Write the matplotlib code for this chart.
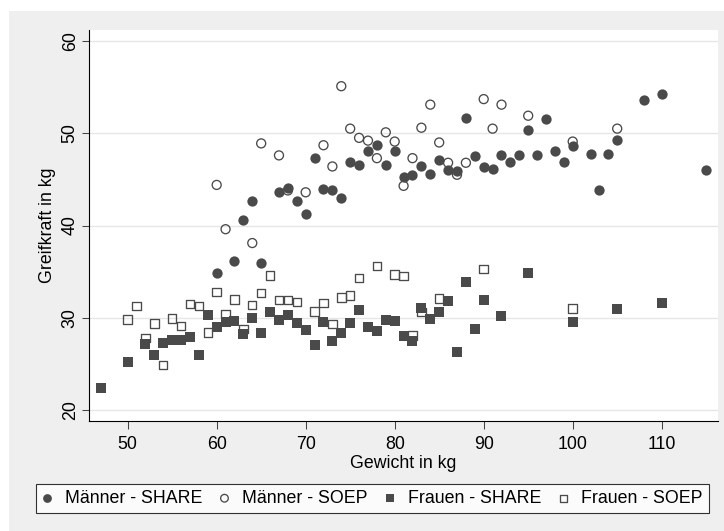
import matplotlib
matplotlib.use('Agg')
import matplotlib.pyplot as plt
from matplotlib.patches import Rectangle

plt.rcParams['font.family'] = ['Liberation Sans', 'DejaVu Sans']

# Männer - SHARE (filled circles)
m_share_x = [60, 62, 63, 64, 65, 67, 68, 69, 70, 71, 72, 73, 74, 75, 76, 77, 78, 79, 80, 81,
             82, 83, 84, 85, 86, 87, 88, 89, 90, 91, 92, 93, 94, 95, 96, 97, 98, 99, 100,
             102, 103, 104, 105, 108, 110, 115]
m_share_y = [34.9, 36.1, 40.6, 42.7, 35.9, 43.6, 44.1, 42.7, 41.3, 47.3, 44.0, 43.8, 43.0, 46.9,
             46.6, 48.1, 48.7, 46.6, 48.1, 45.3, 45.5, 46.4, 45.6, 47.1, 46.0, 45.9, 51.6, 47.5,
             46.3, 46.1, 47.6, 46.9, 47.6, 50.3, 47.6, 51.5, 48.1, 46.9, 48.6, 47.8, 43.8, 47.7,
             49.3, 53.6, 54.2, 46.0]

# Männer - SOEP (hollow circles)
m_soep_x = [60, 61, 64, 65, 67, 68, 70, 72, 73, 74, 75, 76, 77, 78, 79, 80, 81, 82, 83, 84,
            85, 86, 87, 88, 90, 91, 92, 95, 100, 105]
m_soep_y = [44.4, 39.6, 38.1, 48.9, 47.6, 43.8, 43.6, 48.7, 46.4, 55.1, 50.5, 49.5, 49.2, 47.3,
            50.1, 49.1, 44.3, 47.3, 50.6, 53.1, 49.0, 46.8, 45.5, 46.8, 53.7, 50.5, 53.1, 51.9,
            49.1, 50.5]

# Frauen - SHARE (filled squares)
f_share_x = [47, 50, 52, 53, 54, 55, 56, 57, 58, 59, 60, 61, 62, 63, 64, 65, 66, 67, 68, 69,
             70, 71, 72, 73, 74, 75, 76, 77, 78, 79, 80, 81, 82, 83, 84, 85, 86, 87, 88, 89,
             90, 92, 95, 100, 105, 110]
f_share_y = [22.4, 25.2, 27.2, 26.0, 27.3, 27.6, 27.6, 27.9, 26.0, 30.3, 29.0, 29.5, 29.7, 28.2,
             30.0, 28.4, 30.6, 29.8, 30.3, 29.4, 28.7, 27.1, 29.5, 27.5, 28.3, 29.4, 30.8, 29.0,
             28.6, 29.8, 29.6, 28.0, 27.5, 31.1, 29.9, 30.6, 31.8, 26.3, 33.9, 28.8, 31.9, 30.2,
             34.9, 29.5, 31.0, 31.6]

# Frauen - SOEP (hollow squares)
f_soep_x = [50, 51, 52, 53, 54, 55, 56, 57, 58, 59, 60, 61, 62, 63, 64, 65, 66, 67, 68, 69,
            71, 72, 73, 74, 75, 76, 78, 80, 81, 82, 83, 85, 90, 100]
f_soep_y = [29.8, 31.3, 27.8, 29.4, 24.9, 29.9, 29.1, 31.5, 31.3, 28.4, 32.8, 30.4, 32.0, 28.8,
            31.4, 32.7, 34.6, 31.9, 31.9, 31.7, 30.7, 31.6, 29.3, 32.2, 32.4, 34.3, 35.6, 34.7,
            34.5, 28.1, 30.6, 32.1, 35.3, 31.0]

x_ticks = [50, 60, 70, 80, 90, 100, 110]
y_ticks = [20, 30, 40, 50, 60]

dark = '#4a4a4a'
fs = 12.8

fig = plt.figure(figsize=(7.24, 5.31), dpi=100, facecolor='white')
# gray Stata-like background (the picture is cropped with a thin white margin)
fig.patches.append(Rectangle((9 / 724, 0), 715 / 724, 520 / 531, transform=fig.transFigure,
                             facecolor='#efefef', edgecolor='none', zorder=-10))

ax = fig.add_axes([89.3 / 724, 1 - 421.3 / 531, 628.4 / 724, 391.3 / 531])
ax.set_facecolor('white')

ax.scatter(m_share_x, m_share_y, s=55, marker='o', color=dark, linewidths=0,
           label='Männer - SHARE', zorder=3)
ax.scatter(m_soep_x, m_soep_y, s=42, marker='o', facecolors='none', edgecolors=dark,
           linewidths=0.95, label='Männer - SOEP', zorder=3)
ax.scatter(f_share_x, f_share_y, s=47, marker='s', color=dark, linewidths=0,
           label='Frauen - SHARE', zorder=3)
ax.scatter(f_soep_x, f_soep_y, s=37, marker='s', facecolors='none', edgecolors=dark,
           linewidths=0.95, label='Frauen - SOEP', zorder=3)

ax.set_xlim(45.69, 116.29)
ax.set_ylim(18.78, 61.19)
ax.set_xticks(x_ticks)
ax.set_yticks(y_ticks)
ax.grid(axis='y', color='#e6e6e6', linewidth=1.0, zorder=0)
ax.set_axisbelow(True)

for side in ['top', 'right']:
    ax.spines[side].set_visible(False)
for side in ['left', 'bottom']:
    ax.spines[side].set_color('black')
    ax.spines[side].set_linewidth(0.8)

ax.tick_params(axis='x', direction='out', length=5.4, width=0.75, color='#444444',
               labelsize=fs, pad=5.4)
ax.tick_params(axis='y', direction='out', length=5.4, width=0.75, color='#444444',
               labelsize=fs, pad=2.2)
plt.setp(ax.get_yticklabels(), rotation=90, va='center')

ax.set_xlabel('Gewicht in kg', fontsize=fs, labelpad=1)
ax.set_ylabel('Greifkraft in kg', fontsize=fs, labelpad=4)

leg = fig.legend(loc='center', bbox_to_anchor=(372.2 / 724, 1 - 498.4 / 531), ncol=4,
                 fontsize=fs, frameon=True, fancybox=False, markerscale=0.85,
                 handlelength=0.6, handletextpad=0.7, columnspacing=0.95,
                 borderpad=0.35, borderaxespad=0)
leg.get_frame().set_edgecolor('black')
leg.get_frame().set_linewidth(0.8)
leg.get_frame().set_facecolor('white')

fig.savefig('out.png', dpi=100, facecolor=fig.get_facecolor())
